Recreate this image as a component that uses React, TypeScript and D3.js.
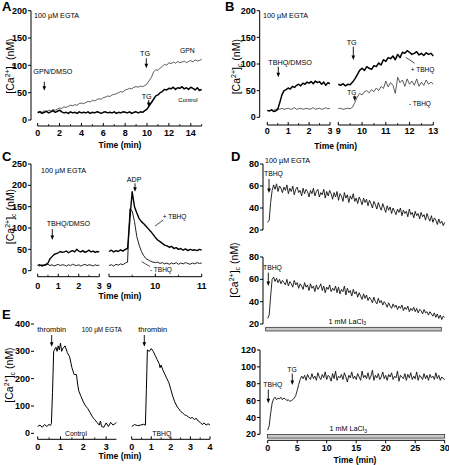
import React from "react";
import * as d3 from "d3";

const FONT = "'Liberation Sans', Arial, Helvetica, sans-serif";

// ---------- Panel A (0–15 min, sampled every 0.2 min) ----------
const A_T0 = 0;
const A_DT = 0.2;
const aGPN = [15,16,14,17,15,18, 17,19,18,20,22, 21,24,23,25,27, 26,28,27,30,31, 30,32,34,33,36, 35,37,39,38,41, 42,44,43,46,47, 48,50,52,51,55, 56,58,57,60,61, 60,62,61,63,66, 72,78,88,92,91, 95,98,102,100,105, 103,106,104,107,105, 106,108,105,107,109, 106,110,108,109,111];
const aControl = [13,15,12,14,16,13, 15,17,14,16,18, 15,13,14,12,15, 13,14,12,15,13, 14,13,15,12,14, 13,15,14,12,14, 15,13,14,13,15, 12,14,13,15,14, 13,15,12,14,15, 13,15,14,17,20, 26,32,38,44,46, 50,52,56,55,58, 57,60,56,59,58, 61,57,59,56,60, 58,55,59,54,56];
const aXTicks = [0,2,4,6,8,10,12,14];
const aYTicks = [0,50,100,150,200];

// ---------- Panel B (0–3 and 9–13 min, every 0.1 min) ----------
const bPlus1 = [13,12,14,11,12,15,28,42,50,52,55,53,58,56,60,62,59,64,62,66,64,67,63,68,65,67,62,66,60,65,63];
const bMinus1 = [13,12,14,13,15,16,15,17,15,16,17,15,16,18,15,16,17,15,16,17,15,16,18,15,16,17,15,16,18,16,17];
const bPlus2 = [62,60,63,59,62,61,66,72,80,88,92,88,95,92,90,97,95,102,98,108,105,112,110,115,108,118,112,122,120,125,122,118,120,123,117,120,116,121,118,120,115];
const bMinus2 = [16,17,15,16,17,16,19,28,38,45,42,48,50,46,52,48,55,50,58,54,68,57,65,60,45,75,65,70,58,72,62,68,60,72,58,66,60,70,62,66,62];
const bXTicks1 = [0,1,2,3];
const bXTicks2 = [9,10,11,12,13];
const bYTicks = [0,50,100,150,200];

// ---------- Panel C (0–3 every 0.1; 9–11 every 0.05 min) ----------
const cPlus1 = [12,14,11,13,15,18,28,33,38,40,42,45,43,44,46,42,45,47,44,50,46,44,47,43,45,48,44,46,43,45,44];
const cMinus1 = [13,11,14,12,13,15,12,14,11,13,15,12,14,13,11,14,12,15,13,12,14,11,13,15,12,14,13,11,14,12,13];
const cPlus2 = [45,48,44,47,45,49,46,50,52,120,185,150,135,122,115,110,104,98,92,85,78,72,68,64,60,58,55,57,52,54,50,52,48,51,47,50,48,49,47,50,48];
const cMinus2 = [12,14,11,15,13,16,14,18,20,145,140,115,80,60,45,35,28,25,22,20,19,20,17,19,16,18,15,18,16,19,15,18,16,19,17,15,18,16,19,17,18];
const cXTicks1 = [0,1,2,3];
const cXTicks2 = [9,10,11];
const cYTicks = [0,50,100,150,200,250];

// ---------- Panel D (0–30 min, every 0.25 min) ----------
const D_DT = 0.25;
const d1 = [
  27,29,45,56,61,57,62,55,60,58,
  54,59,56,61,53,58,55,60,52,57,
  59,54,56,51,58,53,57,55,50,56,
  53,58,51,55,57,50,54,52,57,49,
  55,51,56,53,48,54,50,55,47,53,
  51,46,54,49,52,45,51,48,53,46,
  49,44,50,47,43,49,45,48,42,47,
  44,40,46,43,39,45,41,38,44,40,
  36,42,38,41,35,40,37,34,39,36,
  40,33,38,35,37,32,39,34,36,31,
  37,33,35,30,36,32,34,29,35,31,
  28,33,27,31,29,25,30,26,28,24,
  27];
const d2 = [
  25,28,45,60,62,58,61,57,60,56,
  59,57,55,60,54,58,56,53,59,55,
  57,52,56,54,51,57,53,55,50,56,
  52,54,49,55,51,53,56,50,54,48,
  53,51,55,49,52,50,54,48,53,47,
  51,49,54,46,52,48,50,45,51,47,
  49,44,48,45,42,47,43,46,41,44,
  42,39,44,40,38,43,39,41,37,40,
  38,35,39,36,34,38,35,37,33,36,
  34,37,32,35,33,36,31,34,32,35,
  31,34,30,33,32,29,33,30,31,28,
  31,29,27,30,26,29,25,28,24,27,
  26];
const d3v = [
  25,30,45,57,62,64,61,63,62,64,
  61,63,62,60,61,59,60,61,63,66,
  72,79,85,89,86,90,84,91,87,85,
  92,86,89,84,93,88,85,91,87,94,
  85,90,88,83,92,86,95,84,89,87,
  91,85,93,88,82,90,87,94,86,89,
  85,92,88,84,95,87,90,86,93,85,
  89,96,84,90,87,92,85,88,94,86,
  90,84,91,88,93,85,89,87,95,83,
  90,88,86,92,84,91,87,93,85,89,
  86,94,84,90,88,85,92,86,90,84,
  91,87,89,85,93,86,90,84,88,86,
  85];
const dXTicks = [0,5,10,15,20,25,30];
const dYTicks12 = [20,40,60,80];
const dYTicks3 = [20,40,60,80,100,120];

// ---------- Panel E ----------
const eCtrlT = [0,0.1,0.2,0.3,0.4,0.5,0.55,0.6,0.65,0.7,0.8,0.85,0.9,0.95,1.0,1.05,1.1,1.2,1.3,1.4,1.5,1.6,1.7,1.75,1.8,1.9,2.0,2.1,2.2,2.3,2.4,2.5,2.6,2.7,2.75,2.8,2.9,3.0,3.1,3.2,3.3,3.4,3.45];
const eCtrlV = [25,30,22,32,25,33,28,35,150,300,315,300,320,305,330,300,310,320,295,280,240,215,215,180,155,135,115,100,90,75,60,50,40,30,45,25,22,38,25,40,30,36,40];
const eTbhqT = [0,0.15,0.3,0.45,0.6,0.7,0.75,0.8,0.9,1.0,1.1,1.2,1.3,1.4,1.45,1.5,1.6,1.7,1.8,1.9,2.0,2.1,2.2,2.3,2.4,2.5,2.6,2.7,2.8,2.9,3.0,3.1,3.2,3.3,3.4,3.5,3.6,3.7,3.8,3.9,4.0];
const eTbhqV = [25,32,28,30,33,30,160,305,300,310,300,285,270,255,240,250,230,215,200,185,160,135,115,100,90,80,75,68,65,60,55,58,50,55,45,40,32,38,30,35,30];
const eXTicks1 = [0,1,2,3];
const eXTicks2 = [0,1,2,3,4];
const eYTicks = [0,100,200,300,400];

const grid = (n: number, t0: number, dt: number) => d3.range(n).map((i) => t0 + i * dt);

type S = d3.ScaleLinear<number, number>;

function Trace({ ts, vs, x, y, w = 1, c = "#000" }: { ts: number[]; vs: number[]; x: S; y: S; w?: number; c?: string }) {
  const gen = d3.line<number>().x((_, i) => x(ts[i])).y((v) => y(v));
  return <path d={gen(vs) || ""} fill="none" stroke={c} strokeWidth={w} strokeLinejoin="round" />;
}

function YAxis({ s, x, ticks, line = true }: { s: S; x: number; ticks: number[]; line?: boolean }) {
  const [a, b] = s.range();
  return (
    <g>
      {line && <line x1={x} x2={x} y1={a} y2={b} stroke="#000" strokeWidth={1} />}
      {ticks.map((t) => (
        <g key={t}>
          <line x1={x - 3} x2={x} y1={s(t)} y2={s(t)} stroke="#000" strokeWidth={1} />
          <text x={x - 4} y={s(t)} dy="0.35em" textAnchor="end" fontSize={9} fontWeight="bold">{t}</text>
        </g>
      ))}
    </g>
  );
}

function XAxis({ s, y, major, minor = [], labelY, down = false }: { s: S; y: number; major: number[]; minor?: number[]; labelY: number; down?: boolean }) {
  const [a, b] = s.range();
  const dir = down ? 1 : -1;
  return (
    <g>
      <line x1={a} x2={b} y1={y} y2={y} stroke="#000" strokeWidth={1} />
      {minor.map((t) => (
        <line key={"m" + t} x1={s(t)} x2={s(t)} y1={y} y2={y + dir * 2} stroke="#000" strokeWidth={0.8} />
      ))}
      {major.map((t) => (
        <g key={t}>
          <line x1={s(t)} x2={s(t)} y1={y} y2={y + dir * 3} stroke="#000" strokeWidth={1} />
          <text x={s(t)} y={labelY} textAnchor="middle" fontSize={9} fontWeight="bold">{t}</text>
        </g>
      ))}
    </g>
  );
}

function Arrow({ x, y1, y2 }: { x: number; y1: number; y2: number }) {
  return (
    <g>
      <line x1={x} x2={x} y1={y1} y2={y2 - 3} stroke="#000" strokeWidth={0.9} />
      <path d={`M${x - 1.8},${y2 - 4.5}L${x + 1.8},${y2 - 4.5}L${x},${y2}Z`} fill="#000" />
    </g>
  );
}

function YLabel({ x, y }: { x: number; y: number }) {
  return (
    <text transform={`translate(${x},${y}) rotate(-90)`} textAnchor="middle" fontSize={10.5}>
      [Ca<tspan dy={-4} fontSize={7}>2+</tspan>
      <tspan dy={4}>]</tspan>
      <tspan dy={2} fontSize={7}>c</tspan>
      <tspan dy={-2}> (nM)</tspan>
    </text>
  );
}

function T({ x, y, s = 7.2, anchor = "start", children }: { x: number; y: number; s?: number; anchor?: string; children: React.ReactNode }) {
  return (
    <text x={x} y={y} fontSize={s} textAnchor={anchor as any}>{children}</text>
  );
}

function Lanthanum({ x, y }: { x: number; y: number }) {
  return (
    <text x={x} y={y} fontSize={7.2} textAnchor="middle">
      1 mM LaCl<tspan dy={1.5} fontSize={5}>3</tspan>
    </text>
  );
}

export default function App() {
  const xA = d3.scaleLinear().domain([0, 15]).range([37.7, 201.7]);
  const yA = d3.scaleLinear().domain([0, 200]).range([120, 10.7]);

  const xB1 = d3.scaleLinear().domain([0, 3]).range([267.3, 330]);
  const xB2 = d3.scaleLinear().domain([9, 13]).range([338.3, 433.3]);
  const yB = d3.scaleLinear().domain([0, 200]).range([117.3, 10.7]);

  const xC1 = d3.scaleLinear().domain([0, 3]).range([37.7, 99.3]);
  const xC2 = d3.scaleLinear().domain([9, 11]).range([109, 201.7]);
  const yC = d3.scaleLinear().domain([0, 250]).range([270.7, 164]);

  const xD = d3.scaleLinear().domain([0, 30]).range([267.7, 444.7]);
  const yD1 = d3.scaleLinear().domain([20, 80]).range([230, 164]);
  const yD2 = d3.scaleLinear().domain([20, 80]).range([324, 257]);
  const yD3 = d3.scaleLinear().domain([20, 120]).range([434.3, 350]);

  const xE1 = d3.scaleLinear().domain([0, 3.45]).range([37.7, 116.4]);
  const xE2 = d3.scaleLinear().domain([0, 4]).range([131.7, 210]);
  const yE = d3.scaleLinear().domain([0, 400]).range([433.3, 324]);

  const aT = grid(aGPN.length, A_T0, A_DT);
  const b1T = grid(bPlus1.length, 0, 0.1);
  const b2T = grid(bPlus2.length, 9, 0.1);
  const c1T = grid(cPlus1.length, 0, 0.1);
  const c2T = grid(cPlus2.length, 9, 0.05);
  const d1T = grid(d1.length, 0, D_DT);
  const d2T = grid(d2.length, 0, D_DT);
  const d3T = grid(d3v.length, 0, D_DT);

  const half = (a: number, b: number, st: number) => d3.range(a, b + 1e-9, st);

  return (
    <svg width={449} height={465} style={{ position: "absolute", left: 0, top: 0, background: "#fff" }} fontFamily={FONT} fill="#000">
      <rect x={0} y={0} width={449} height={465} fill="#fff" />

      {/* ===== Panel A ===== */}
      <text x={2} y={10.5} fontSize={13} fontWeight="bold">A</text>
      <YAxis s={yA} x={31} ticks={aYTicks} />
      <XAxis s={xA} y={126} major={aXTicks} minor={half(1, 15, 2)} labelY={135.5} />
      <text x={120} y={147.5} fontSize={8.5} fontWeight="bold" textAnchor="middle">Time (min)</text>
      <YLabel x={13.5} y={66} />
      <Trace ts={aT} vs={aGPN} x={xA} y={yA} w={0.8} c="#333" />
      <Trace ts={aT} vs={aControl} x={xA} y={yA} w={1.5} />
      <T x={34} y={18.3}>100 µM EGTA</T>
      <T x={33.3} y={74}>GPN/DMSO</T>
      <Arrow x={44.3} y1={81.7} y2={90.7} />
      <T x={140} y={56}>TG</T>
      <Arrow x={146.3} y1={58.3} y2={68.3} />
      <T x={180} y={52.5} s={6.8}>GPN</T>
      <T x={141.7} y={98.5}>TG</T>
      <Arrow x={148.7} y1={100} y2={107} />
      <T x={178.3} y={101.5} s={6}>Control</T>

      {/* ===== Panel B ===== */}
      <text x={225} y={10.5} fontSize={13} fontWeight="bold">B</text>
      <YAxis s={yB} x={259.7} ticks={bYTicks} />
      <XAxis s={xB1} y={125} major={bXTicks1} minor={[0.5, 1.5, 2.5]} labelY={134} />
      <XAxis s={xB2} y={125} major={bXTicks2} minor={[9.5, 10.5, 11.5, 12.5]} labelY={134} />
      <text x={335.7} y={148.5} fontSize={8.5} fontWeight="bold" textAnchor="middle">Time (min)</text>
      <YLabel x={239.5} y={66.7} />
      <Trace ts={b1T} vs={bMinus1} x={xB1} y={yB} w={0.8} c="#333" />
      <Trace ts={b1T} vs={bPlus1} x={xB1} y={yB} w={1.5} />
      <Trace ts={b2T} vs={bMinus2} x={xB2} y={yB} w={0.8} c="#333" />
      <Trace ts={b2T} vs={bPlus2} x={xB2} y={yB} w={1.5} />
      <T x={263} y={18.3}>100 µM EGTA</T>
      <T x={268.3} y={65}>TBHQ/DMSO</T>
      <Arrow x={278.3} y1={66.7} y2={77.3} />
      <T x={346.7} y={44.7}>TG</T>
      <Arrow x={353.3} y1={46.7} y2={60} />
      <T x={347.3} y={94.5} s={6.5}>TG</T>
      <Arrow x={354.7} y1={95.5} y2={101} />
      <line x1={405.7} y1={57.3} x2={414.7} y2={63.3} stroke="#000" strokeWidth={0.7} />
      <T x={410.7} y={71.5} s={6.5}>+ TBHQ</T>
      <T x={409} y={106} s={6.5}>- TBHQ</T>

      {/* ===== Panel C ===== */}
      <text x={2} y={160.5} fontSize={13} fontWeight="bold">C</text>
      <YAxis s={yC} x={31} ticks={cYTicks} />
      <XAxis s={xC1} y={276.7} major={cXTicks1} minor={[0.5, 1.5, 2.5]} labelY={289} />
      <XAxis s={xC2} y={276.7} major={cXTicks2} minor={[9.5, 10.5]} labelY={289} />
      <text x={120} y={299} fontSize={8.5} fontWeight="bold" textAnchor="middle">Time (min)</text>
      <YLabel x={14} y={216.5} />
      <Trace ts={c1T} vs={cMinus1} x={xC1} y={yC} w={1} c="#222" />
      <Trace ts={c1T} vs={cPlus1} x={xC1} y={yC} w={1.4} />
      <Trace ts={c2T} vs={cMinus2} x={xC2} y={yC} w={1} c="#222" />
      <Trace ts={c2T} vs={cPlus2} x={xC2} y={yC} w={1.4} />
      <T x={41} y={172.5}>100 µM EGTA</T>
      <T x={126.7} y={181.5}>ADP</T>
      <Arrow x={135} y1={183.3} y2={191.7} />
      <T x={46.7} y={226}>TBHQ/DMSO</T>
      <Arrow x={52.3} y1={229} y2={240} />
      <line x1={163.3} y1={220} x2={155} y2={226} stroke="#000" strokeWidth={0.7} />
      <T x={162.7} y={219} s={6.5}>+ TBHQ</T>
      <line x1={141.7} y1={261.7} x2={150} y2={266.5} stroke="#000" strokeWidth={0.7} />
      <T x={150} y={272} s={6.5}>- TBHQ</T>

      {/* ===== Panel D ===== */}
      <text x={231} y={161} fontSize={13} fontWeight="bold">D</text>
      <YLabel x={238} y={270} />
      <YAxis s={yD1} x={263} ticks={dYTicks12} />
      <Trace ts={d1T} vs={d1} x={xD} y={yD1} w={0.9} c="#111" />
      <T x={265} y={162.8}>100 µM EGTA</T>
      <T x={264} y={176.3} s={6.8}>TBHQ</T>
      <Arrow x={269} y1={179} y2={193} />

      <YAxis s={yD2} x={263} ticks={dYTicks12} />
      <Trace ts={d2T} vs={d2} x={xD} y={yD2} w={0.9} c="#111" />
      <T x={263} y={270} s={6.8}>TBHQ</T>
      <Arrow x={268.3} y1={272.7} y2={286} />
      <rect x={265.7} y={327.3} width={175.6} height={3.7} fill="#c8c8c8" stroke="#222" strokeWidth={0.7} />
      <Lanthanum x={347.3} y={323.5} />

      <YAxis s={yD3} x={260} ticks={dYTicks3} />
      <Trace ts={d3T} vs={d3v} x={xD} y={yD3} w={0.9} c="#111" />
      <T x={263.3} y={386.7} s={6.8}>TBHQ</T>
      <Arrow x={268.3} y1={389.5} y2={403.3} />
      <T x={287.3} y={371.7} s={6.8}>TG</T>
      <Arrow x={292.3} y1={373.5} y2={385} />
      <rect x={267.3} y={434.5} width={177.4} height={3.6} fill="#c8c8c8" stroke="#222" strokeWidth={0.7} />
      <Lanthanum x={348.2} y={431.3} />
      <XAxis s={xD} y={440.3} major={dXTicks} minor={[]} labelY={451} down />
      <text x={355} y={462.5} fontSize={8.5} fontWeight="bold" textAnchor="middle">Time (min)</text>

      {/* ===== Panel E ===== */}
      <text x={2} y={318.5} fontSize={13} fontWeight="bold">E</text>
      <YAxis s={yE} x={34} ticks={eYTicks} line={false} />
      <XAxis s={xE1} y={439.3} major={eXTicks1} minor={[0.5, 1.5, 2.5]} labelY={450} />
      <XAxis s={xE2} y={439.3} major={eXTicks2} minor={[0.5, 1.5, 2.5, 3.5]} labelY={450} />
      <text x={120} y={459} fontSize={8.5} fontWeight="bold" textAnchor="middle">Time (min)</text>
      <YLabel x={13} y={375} />
      <Trace ts={eCtrlT} vs={eCtrlV} x={xE1} y={yE} w={1} />
      <Trace ts={eTbhqT} vs={eTbhqV} x={xE2} y={yE} w={1} />
      <T x={37.3} y={331.7} s={7.4}>thrombin</T>
      <Arrow x={51.7} y1={335} y2={346.7} />
      <T x={81.7} y={331.7} s={6.4}>100 µM EGTA</T>
      <T x={138.3} y={331.7} s={7.4}>thrombin</T>
      <Arrow x={144.3} y1={335} y2={346.7} />
      <T x={65} y={436} s={6.8}>Control</T>
      <T x={152.3} y={436} s={6.8}>TBHQ</T>
    </svg>
  );
}
